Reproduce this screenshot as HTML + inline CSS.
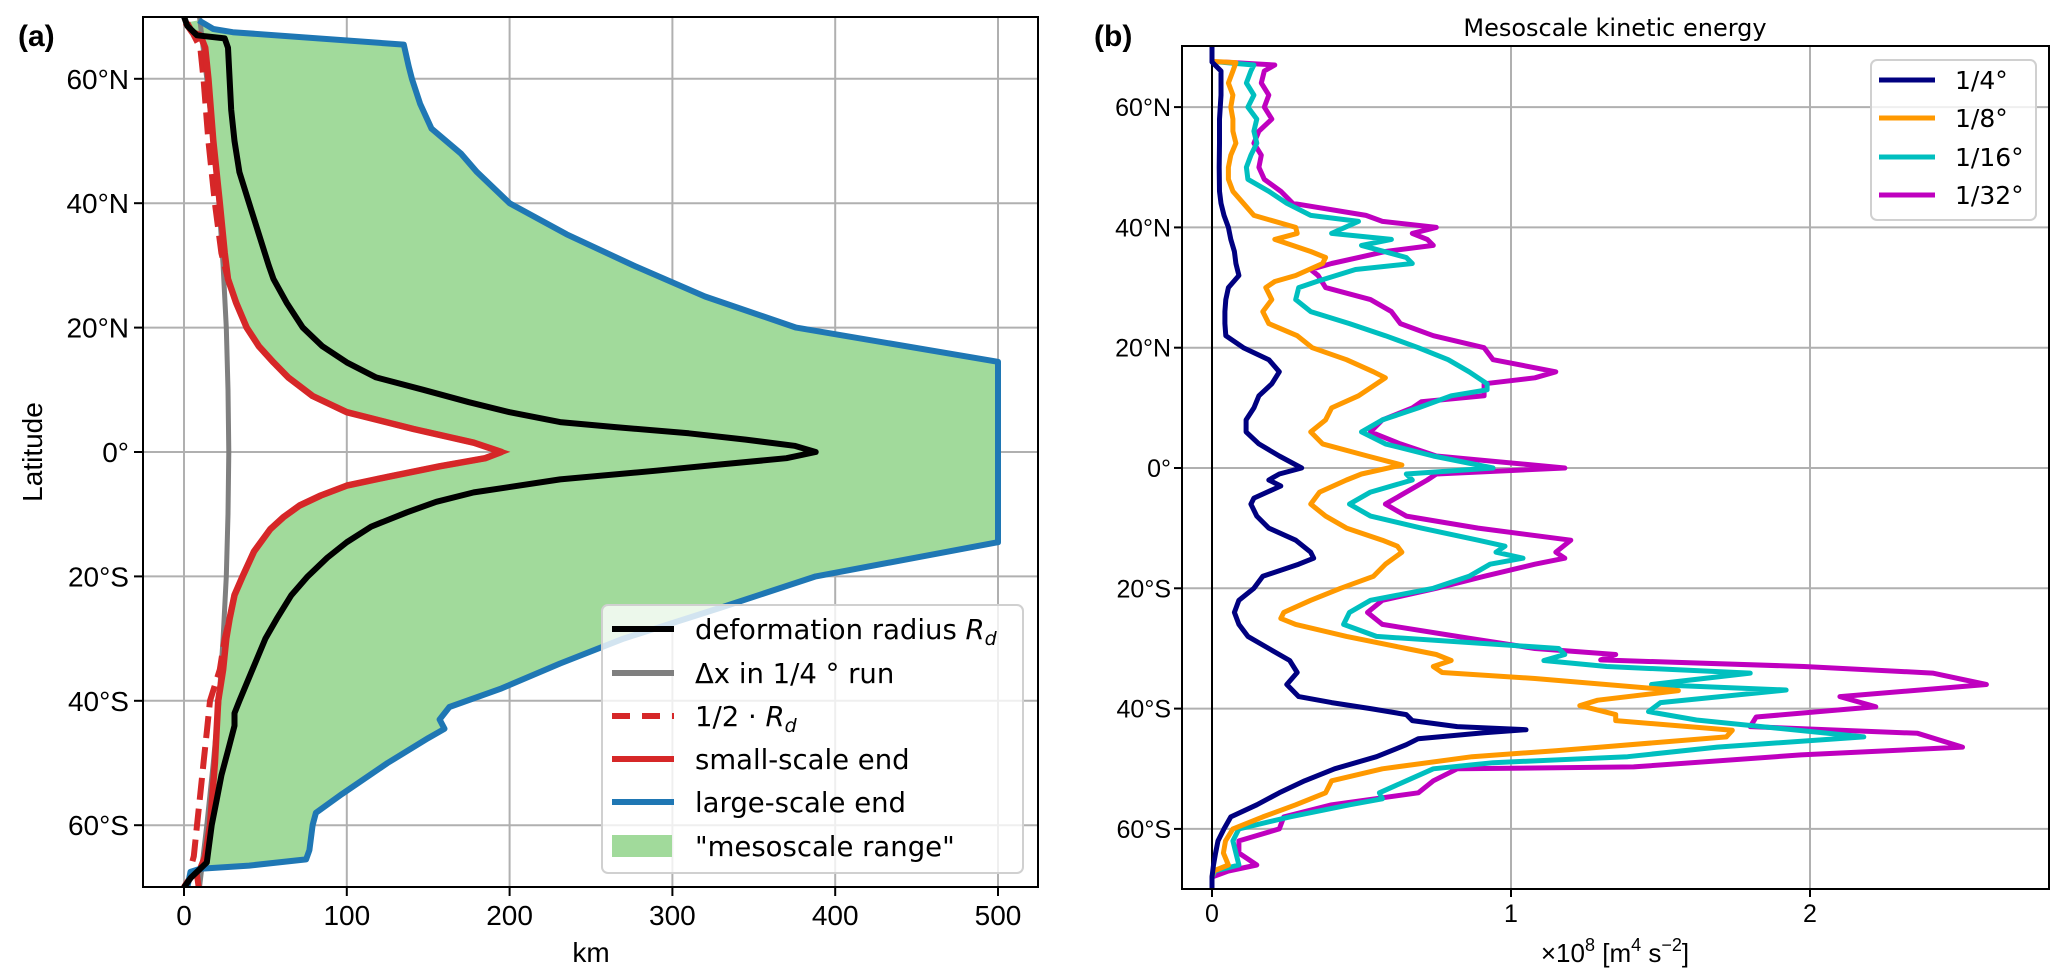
<!DOCTYPE html>
<html><head><meta charset="utf-8"><style>
body{margin:0;background:#fff}
svg{display:block}
.tk{font-family:"Liberation Sans Narrow","Liberation Sans",sans-serif;fill:#000}
.dv{font-family:"DejaVu Sans","Liberation Sans",sans-serif;fill:#000}
</style></head><body>
<svg id="fig" width="2067" height="980" viewBox="0 0 2067 980" xmlns="http://www.w3.org/2000/svg">
<defs>
<clipPath id="clipA"><rect x="143" y="17" width="895" height="870"/></clipPath>
<clipPath id="clipB"><rect x="1182" y="46" width="867" height="843"/></clipPath>
</defs>
<g id="panelA"></g>
<g id="panelB"></g>
</svg>
<script>
// ---------- Panel (a) data ----------
const rdLat = [70,68.5,67,66.5,65,60,55,50,45,40,35,30,27.8,24,20,17,14.4,12,10,8,6.4,4.8,4,3,2,1,0,-1,-2,-3,-4.4,-6.5,-8,-9.7,-12,-14.5,-17,-20,-23,-26.8,-30,-35,-40,-42,-44,-48,-52,-56,-60,-64,-66,-67,-68.5,-70];
const rdKm  = [0,2,8,25,27,28,29,31,34,40,46,52,55,63,73,85,100,118,147,175,200,231,265,310,345,375,388,370,330,290,231,178,155,137,115,100,88,76,66,57,50,42,34,31,31,27,23,20,17,15,14,10,4,0];
const dxLat = [70,60,50,40,30,20,10,0,-10,-20,-30,-40,-50,-60,-70];
const dxKm  = [9.5,14,18,21.5,24,26,27,27.5,27,26,24,21.5,18,14,9.5];
const smLat = [69,67.5,67,65,60,50,40,32,27.8,24,20,17,14.4,12,9,6.4,3.7,1.5,0,-1,-2.3,-4,-5.4,-7,-8.6,-10.5,-12.4,-16,-20,-23,-26.8,-30,-35,-40,-50,-60,-65,-67,-68,-70];
const smKm  = [1,5,10,13,15,18,22,25,27,32,38.5,46,55,64,79,100,141,178,195,185,157,125,100,84,71,61,53,43,36,31,28,26,24,21,19,16,13,10,5,0];
const hfLat = [69,67,65,60,50,40,32,27.8,24,20,17,14.4,12,9,6.4,3.7,1.5,0,-1,-2.3,-4,-5.4,-7,-8.6,-10.5,-12.4,-16,-20,-23,-26.8,-30,-35,-40,-45,-50,-55,-60,-65,-66,-67,-68,-70];
const hfKm  = [2,6,10,12,15,19,23,27,32,38.5,46,55,64,79,100,141,178,195,185,157,125,100,84,71,61,53,43,36,31,28,25,22,16,14,12,10,8,6,5,6,8,9];
const lgLat = [69.4,68,67.5,65.5,62,60,56,52,48,45,40,35,30,25,20,14.5,-14.5,-20,-25,-30,-34,-38,-41,-43,-44.5,-46,-50,-55,-58,-60,-64,-65.5,-66.5,-67,-67.5,-70];
const lgKm  = [9,18,30,135,138,140,145,152,170,180,200,235,276,320,376,500,500,388,330,270,231,195,163,157,160,150,125,97,81,79,77,75,40,10,4,2];
const aXTicks = [0,100,200,300,400,500];
const latTicks = [60,40,20,0,-20,-40,-60];
const latLabels = ["60°N","40°N","20°N","0°","20°S","40°S","60°S"];

// ---------- Panel (b) data ----------
const q4Lat = [70,67.5,66,62,58,54,50,46,44,42,40,38,36,34,32,30,28,26,24,22,20,18,16,14,12,10,8,6,4,2,0,-1,-2,-3,-5,-6,-8,-10,-12,-14,-15,-16,-18,-20,-22,-24,-26,-28,-30,-32,-34,-36,-38,-39,-40,-41,-42,-43,-43.5,-44,-45,-46,-48,-50,-52,-54,-56,-58,-60,-62,-64,-66,-68,-70];
const q4Val = [0,0,0.03,0.03,0.025,0.025,0.024,0.025,0.03,0.04,0.055,0.063,0.075,0.08,0.09,0.055,0.046,0.043,0.043,0.046,0.105,0.19,0.225,0.2,0.157,0.14,0.114,0.114,0.157,0.225,0.3,0.225,0.19,0.23,0.14,0.13,0.15,0.19,0.28,0.33,0.34,0.29,0.17,0.14,0.09,0.075,0.09,0.12,0.19,0.26,0.285,0.25,0.29,0.4,0.53,0.65,0.67,0.82,1.05,0.91,0.69,0.65,0.55,0.41,0.31,0.225,0.15,0.063,0.04,0.02,0.012,0.005,0,0];
const q8Lat = [70,67.6,67.4,66,64,62,60,58,56,54,52,50,48,46,44,42,40,39,38,36,35,34,32,31,30,28,26,24,22,20,18,16,15,14,12,10,8,6,4,2,0.5,-1,-2,-4,-6,-8,-10,-12,-13,-14,-16,-18,-20,-22,-24,-25,-26,-28,-30,-31,-32,-33,-34,-35,-37,-38.6,-39.5,-41,-42,-43.6,-44.7,-46.4,-47,-48,-50,-52,-54,-56,-58,-60,-62,-64,-66,-67,-68,-70];
const q8Val = [0,0,0.08,0.07,0.055,0.07,0.063,0.07,0.07,0.08,0.063,0.055,0.055,0.07,0.105,0.14,0.28,0.285,0.21,0.33,0.38,0.37,0.28,0.21,0.18,0.2,0.17,0.19,0.285,0.335,0.45,0.54,0.58,0.55,0.49,0.4,0.38,0.33,0.37,0.52,0.635,0.5,0.45,0.36,0.33,0.38,0.45,0.57,0.62,0.635,0.58,0.54,0.43,0.33,0.24,0.23,0.28,0.45,0.65,0.75,0.8,0.74,0.77,1.08,1.56,1.29,1.23,1.35,1.35,1.74,1.72,1.3,1.15,0.87,0.57,0.4,0.38,0.28,0.17,0.07,0.045,0.038,0.055,0.005,0,0];
const q16Lat = [70,67.6,67,66,64,62,60,58,56,54,52,50,48,46,44,42,41,39,38,37,35,34,33,31,30,28,26,24,22,20,18,16,14,13,12,10,8,6,4,2,0,-1,-2,-4,-6,-8,-10,-12,-13,-14,-15,-16,-18,-20,-22,-24,-26,-28,-30,-31,-32,-33,-34.1,-36,-36.9,-39,-40.5,-41.9,-44.7,-46.4,-48,-49,-50,-52,-54,-55,-56,-58,-60,-62,-64,-66,-67,-68,-70];
const q16Val = [0,0,0.14,0.13,0.115,0.14,0.12,0.15,0.14,0.15,0.13,0.115,0.12,0.19,0.25,0.33,0.49,0.4,0.6,0.5,0.65,0.67,0.48,0.35,0.29,0.28,0.33,0.46,0.58,0.69,0.79,0.86,0.92,0.92,0.8,0.69,0.57,0.5,0.58,0.74,0.94,0.65,0.67,0.53,0.46,0.53,0.7,0.89,0.98,0.95,1.04,0.93,0.86,0.74,0.53,0.46,0.44,0.55,1.16,1.18,1.11,1.32,1.8,1.47,1.92,1.5,1.46,1.62,2.18,1.69,1.39,0.94,0.74,0.65,0.56,0.57,0.46,0.26,0.09,0.07,0.08,0.09,0.01,0,0];
const q32Lat = [70,67.6,67,66,64,62,60,58,56,54,52,50,48,46,44,42,41,40,39,38,37,36,34,33,32,30,28,26,24,22,20,18,16,15,14,12,11,10,8,6,4,2,0,-1,-2,-4,-6,-8,-10,-12,-14,-15,-16,-18,-20,-22,-24,-26,-28,-30,-31,-31.9,-33,-34.1,-36,-38,-39.7,-41.4,-43,-44.1,-46.4,-47.7,-49.7,-50,-52,-54,-56,-58,-60,-62,-64,-66,-67,-68,-70];
const q32Val = [0,0,0.21,0.175,0.165,0.19,0.175,0.2,0.157,0.14,0.165,0.157,0.175,0.23,0.27,0.515,0.57,0.75,0.67,0.72,0.74,0.58,0.4,0.33,0.355,0.38,0.53,0.6,0.63,0.74,0.91,0.94,1.15,1.08,0.91,0.91,0.7,0.67,0.57,0.53,0.63,0.75,1.18,0.75,0.72,0.65,0.58,0.65,0.89,1.2,1.15,1.18,1.08,0.91,0.75,0.57,0.52,0.57,0.82,1.08,1.35,1.3,1.98,2.41,2.59,2.1,2.22,1.82,1.8,2.36,2.51,1.97,1.41,0.82,0.74,0.69,0.4,0.24,0.225,0.09,0.09,0.15,0.055,0,0];
const bXTicks = [0,1,2];
const bSeriesNames = ["1/4°","1/8°","1/16°","1/32°"];
const bColors = ["#000080","#ff9900","#00bfbf","#bf00bf"];

// ---------- Axis functions ----------
const xA = km => 184 + km * 1.628;
const yA = lat => 452 - lat * 6.22;
const xB = v => 1212 + v * 299;
const yB = lat => 468 - lat * 6.015;

const NS = "http://www.w3.org/2000/svg";
function mk(parent, tag, attrs, text) {
  const e = document.createElementNS(NS, tag);
  for (const k in attrs) e.setAttribute(k, attrs[k]);
  if (text !== undefined) e.textContent = text;
  parent.appendChild(e);
  return e;
}
function pts(lats, vals, fx, fy) {
  return lats.map((l, i) => fx(vals[i]).toFixed(1) + "," + fy(l).toFixed(1)).join(" ");
}

// ================= PANEL A =================
const A = document.getElementById("panelA");
aXTicks.forEach(t => {
  const g = mk(A, "line", {x1: xA(t), x2: xA(t), y1: 17, y2: 887, stroke: "#b0b0b0", "stroke-width": 2});
  
  
});
latTicks.forEach(t => {
  const g = mk(A, "line", {x1: 143, x2: 1038, y1: yA(t), y2: yA(t), stroke: "#b0b0b0", "stroke-width": 2});
  
  
});
const plotA = mk(A, "g", {"clip-path": "url(#clipA)"});


const fillPts = pts(smLat, smKm, xA, yA) + " " + pts(lgLat.slice().reverse(), lgKm.slice().reverse(), xA, yA);
const fill = mk(plotA, "polygon", {points: fillPts, fill: "#a1da9b", stroke: "none"});


const lGray = mk(plotA, "polyline", {points: pts(dxLat, dxKm, xA, yA), fill: "none", stroke: "#7f7f7f", "stroke-width": 5});


const lHalf = mk(plotA, "polyline", {points: pts(hfLat, hfKm, xA, yA), fill: "none", stroke: "#d62728", "stroke-width": 6, "stroke-dasharray": "22,9"});


const lRed = mk(plotA, "polyline", {points: pts(smLat, smKm, xA, yA), fill: "none", stroke: "#d62728", "stroke-width": 6.5, "stroke-linejoin": "round"});


const lBlue = mk(plotA, "polyline", {points: pts(lgLat, lgKm, xA, yA), fill: "none", stroke: "#1f77b4", "stroke-width": 6, "stroke-linejoin": "round"});


const lBlack = mk(plotA, "polyline", {points: pts(rdLat, rdKm, xA, yA), fill: "none", stroke: "#000", "stroke-width": 6, "stroke-linejoin": "round"});


const spA = mk(A, "rect", {x: 143, y: 17, width: 895, height: 870, fill: "none", stroke: "#000", "stroke-width": 2});


aXTicks.forEach(t => {
  const tk = mk(A, "line", {x1: xA(t), x2: xA(t), y1: 887, y2: 896, stroke: "#000", "stroke-width": 2});
  
  
  const lb = mk(A, "text", {x: xA(t), y: 925, "text-anchor": "middle", "font-size": 28, class: "tk"}, String(t));
  
  
});
latTicks.forEach((t, i) => {
  const tk = mk(A, "line", {x1: 134, x2: 143, y1: yA(t), y2: yA(t), stroke: "#000", "stroke-width": 2});
  
  
  const lb = mk(A, "text", {x: 129, y: yA(t) + 10, "text-anchor": "end", "font-size": 28, class: "tk"}, latLabels[i]);
  
  
});
const xlA = mk(A, "text", {x: 591, y: 962, "text-anchor": "middle", "font-size": 28, class: "tk"}, "km");


const ylA = mk(A, "text", {x: 0, y: 0, "text-anchor": "middle", "font-size": 28, class: "tk", transform: "translate(42,452) rotate(-90)"}, "Latitude");


const pa = mk(A, "text", {x: 18, y: 46, "font-size": 30, "font-weight": "bold", class: "tk"}, "(a)");


const legA = mk(A, "g", {});


mk(legA, "rect", {x: 602, y: 605, width: 421, height: 268, rx: 6, fill: "rgba(255,255,255,0.8)", stroke: "#d0d0d0", "stroke-width": 2});
const legRows = [
  {y: 629, kind: "line", color: "#000", dash: null, label: "deformation radius ", sub: true, name: "legend-entry-rd"},
  {y: 673, kind: "line", color: "#7f7f7f", dash: null, label: "Δx in 1/4 °  run", name: "legend-entry-dx"},
  {y: 716, kind: "line", color: "#d62728", dash: "18,12", label: "1/2 · ", sub: true, name: "legend-entry-half-rd"},
  {y: 759, kind: "line", color: "#d62728", dash: null, label: "small-scale end", name: "legend-entry-small-scale"},
  {y: 802, kind: "line", color: "#1f77b4", dash: null, label: "large-scale end", name: "legend-entry-large-scale"},
  {y: 846, kind: "patch", color: "#a1da9b", label: "\"mesoscale range\"", name: "legend-entry-mesoscale-range"}
];
legRows.forEach(r => {
  const g = mk(legA, "g", {});
  
  
  if (r.kind === "line") {
    const a = {x1: 612, x2: 674, y1: r.y, y2: r.y, stroke: r.color, "stroke-width": 6};
    if (r.dash) a["stroke-dasharray"] = r.dash;
    mk(g, "line", a);
  } else {
    mk(g, "rect", {x: 612, y: r.y - 11, width: 60, height: 22, fill: r.color});
  }
  const t = mk(g, "text", {x: 695, y: r.y + 10, "font-size": 27.5, class: "dv"}, r.label);
  if (r.sub) {
    const ts = document.createElementNS(NS, "tspan");
    ts.setAttribute("font-style", "italic");
    ts.textContent = "R";
    t.appendChild(ts);
    const ts2 = document.createElementNS(NS, "tspan");
    ts2.setAttribute("font-style", "italic");
    ts2.setAttribute("font-size", "19");
    ts2.setAttribute("dy", "6");
    ts2.textContent = "d";
    t.appendChild(ts2);
  }
});

// ================= PANEL B =================
const B = document.getElementById("panelB");
bXTicks.forEach(t => {
  const g = mk(B, "line", {x1: xB(t), x2: xB(t), y1: 46, y2: 889, stroke: "#b0b0b0", "stroke-width": 2});
  
  
});
latTicks.forEach(t => {
  const g = mk(B, "line", {x1: 1182, x2: 2049, y1: yB(t), y2: yB(t), stroke: "#b0b0b0", "stroke-width": 2});
  
  
});
const plotB = mk(B, "g", {"clip-path": "url(#clipB)"});


const zl = mk(plotB, "line", {x1: xB(0), x2: xB(0), y1: 46, y2: 889, stroke: "#000", "stroke-width": 2});


const bLats = [q4Lat, q8Lat, q16Lat, q32Lat];
const bVals = [q4Val, q8Val, q16Val, q32Val];
const bNames = ["ke-quarter-degree-line", "ke-eighth-degree-line", "ke-sixteenth-degree-line", "ke-thirtysecond-degree-line"];
[3, 2, 1, 0].forEach(i => {
  const p = mk(plotB, "polyline", {points: pts(bLats[i], bVals[i], xB, yB), fill: "none", stroke: bColors[i], "stroke-width": 5, "stroke-linejoin": "round"});
  
  
});
const spB = mk(B, "rect", {x: 1182, y: 46, width: 867, height: 843, fill: "none", stroke: "#000", "stroke-width": 2});


bXTicks.forEach(t => {
  const tk = mk(B, "line", {x1: xB(t), x2: xB(t), y1: 889, y2: 897, stroke: "#000", "stroke-width": 2});
  
  
  const lb = mk(B, "text", {x: xB(t), y: 922, "text-anchor": "middle", "font-size": 25, class: "tk"}, String(t));
  
  
});
latTicks.forEach((t, i) => {
  const tk = mk(B, "line", {x1: 1174, x2: 1182, y1: yB(t), y2: yB(t), stroke: "#000", "stroke-width": 2});
  
  
  const lb = mk(B, "text", {x: 1171, y: yB(t) + 9, "text-anchor": "end", "font-size": 25, class: "tk"}, latLabels[i]);
  
  
});
const xlB = mk(B, "text", {x: 1615, y: 962, "text-anchor": "middle", "font-size": 26, class: "tk"}, "×10");


[["8", -11, 18], [" [m", 11, 26], ["4", -11, 18], [" s", 11, 26], ["−2", -11, 18], ["]", 11, 26]].forEach(s => {
  const ts = document.createElementNS(NS, "tspan");
  ts.setAttribute("dy", s[1]);
  ts.setAttribute("font-size", s[2]);
  ts.textContent = s[0];
  xlB.appendChild(ts);
});
const ttl = mk(B, "text", {x: 1615, y: 36, "text-anchor": "middle", "font-size": 24, class: "dv"}, "Mesoscale kinetic energy");


const pb = mk(B, "text", {x: 1094, y: 46, "font-size": 30, "font-weight": "bold", class: "tk"}, "(b)");


const legB = mk(B, "g", {});


mk(legB, "rect", {x: 1871, y: 60, width: 165, height: 160, rx: 6, fill: "rgba(255,255,255,0.8)", stroke: "#d0d0d0", "stroke-width": 2});
const legBY = [80, 118, 157, 195];
bSeriesNames.forEach((n, i) => {
  const g = mk(legB, "g", {});
  
  
  mk(g, "line", {x1: 1879, x2: 1935, y1: legBY[i], y2: legBY[i], stroke: bColors[i], "stroke-width": 5});
  mk(g, "text", {x: 1955, y: legBY[i] + 9, "font-size": 25, class: "dv"}, n);
});
</script>
</body></html>
